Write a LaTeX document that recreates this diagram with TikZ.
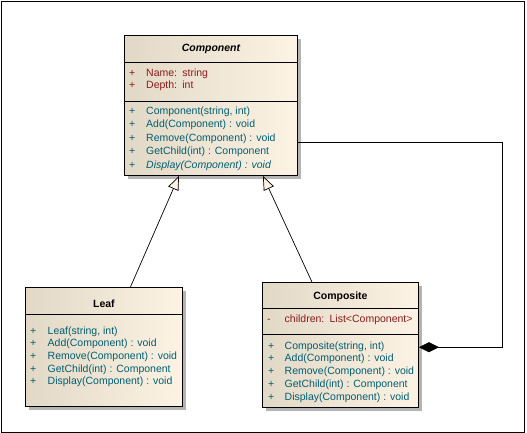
\documentclass[tikz,border=0pt]{standalone}
\usepackage{fontspec}
\setmainfont{Liberation Sans}
\usetikzlibrary{arrows.meta}
\usetikzlibrary{shadows}
\usetikzlibrary{positioning}
\definecolor{ClassLeft}{HTML}{E2D8C6}
\definecolor{ClassRight}{HTML}{FCF3E4}
\definecolor{ShadowGray}{HTML}{B4B4B4}
\definecolor{AttrText}{HTML}{8C1A1A}
\definecolor{OperText}{HTML}{005F73}
\newcommand{\umlfont}{\fontsize{10.5}{12.5}\selectfont}

\tikzset{
  classbox/.style={draw, line width=0.9pt, anchor=north west, inner sep=0pt,
    left color=ClassLeft, right color=ClassRight,
    drop shadow={shadow xshift=4pt, shadow yshift=-4pt, fill=ShadowGray, opacity=1}},
  classname/.style={inner sep=0pt, font=\umlfont\bfseries},
  attr/.style={anchor=base west, inner sep=0pt, text=AttrText, font=\umlfont},
  oper/.style={anchor=base west, inner sep=0pt, text=OperText, font=\umlfont},
  gen/.style={line width=0.7pt, -{Triangle[length=14pt, width=11pt, fill=ClassRight]}},
  comp/.style={line width=0.7pt, {Diamond[length=20pt, width=10pt]}-}
}

\begin{document}
\begin{tikzpicture}[x=1pt, y=-1pt]
    \useasboundingbox (0,0) rectangle (527,433);
    % Frame
    \draw[line width=0.9pt] (1.5,1.5) rectangle (524.5,432);
    % Component
    \node[classbox, minimum width=173pt, minimum height=140pt] (component) at (124,35) {};
    \draw[line width=0.9pt] (component.west |- 0,62) -- (component.east |- 0,62);
    \draw[line width=0.9pt] (component.west |- 0,101) -- (component.east |- 0,101);
    \node[classname, font=\umlfont\bfseries\itshape] (componentname) at (component.north |- 0,49) {Component};
    \foreach \y/\t [count=\i] in {76.5/{Name:\enspace string}, 89/{Depth:\enspace int}} {
      \node[attr] (compattrsign\i) at (129,\y) {+};
      \node[attr] (compattr\i) at ([xshift=17pt]compattrsign\i.base west) {\t};
    }
    \foreach \y/\t [count=\i] in {115/{Component(string, int)}, 128/{Add(Component) : void},
      141.5/{Remove(Component) : void}, 154/{GetChild(int) : Component},
      168/{\itshape Display(Component) : void}} {
      \node[oper] (compopsign\i) at (129,\y) {+};
      \node[oper] (compop\i) at ([xshift=17pt]compopsign\i.base west) {\t};
    }
    % Leaf
    \node[classbox, minimum width=157pt, minimum height=119pt] (leaf) at (25,287) {};
    \draw[line width=0.9pt] (leaf.west |- 0,314) -- (leaf.east |- 0,314);
    \node[classname] (leafname) at (leaf.north |- 0,304) {Leaf};
    \foreach \y/\t [count=\i] in {334/{Leaf(string, int)}, 346/{Add(Component) : void},
      359/{Remove(Component) : void}, 372/{GetChild(int) : Component},
      384.5/{Display(Component) : void}} {
      \node[oper] (leafopsign\i) at (30,\y) {+};
      \node[oper] (leafop\i) at ([xshift=17.5pt]leafopsign\i.base west) {\t};
    }
    % Composite
    \node[classbox, minimum width=156pt, minimum height=124.5pt] (composite) at (262,282) {};
    \draw[line width=0.9pt] (composite.west |- 0,308) -- (composite.east |- 0,308);
    \draw[line width=0.9pt] (composite.west |- 0,334.5) -- (composite.east |- 0,334.5);
    \node[classname] (compositename) at (composite.north |- 0,297) {Composite};
    \node[attr] (childrensign) at (267,322.5) {-};
    \node[attr] (children) at ([xshift=17.5pt]childrensign.base west) {children:\enspace List<Component>};
    \foreach \y/\t [count=\i] in {349/{Composite(string, int)}, 361.5/{Add(Component) : void},
      374.5/{Remove(Component) : void}, 387/{GetChild(int) : Component},
      400/{Display(Component) : void}} {
      \node[oper] (cmpopsign\i) at (268,\y) {+};
      \node[oper] (cmpop\i) at ([xshift=16.5pt]cmpopsign\i.base west) {\t};
    }
    % Generalizations
    \draw[gen] ([xshift=26.5pt]leaf.north) -- ([xshift=-32pt]component.south);
    \draw[gen] ([xshift=-28.5pt]composite.north) -- ([xshift=52pt]component.south);
    % Composition
    \draw[comp] ([yshift=-2.5pt]composite.east) -- ++(83,0) |- ([yshift=-36.5pt]component.east);
  \end{tikzpicture}
\end{document}
